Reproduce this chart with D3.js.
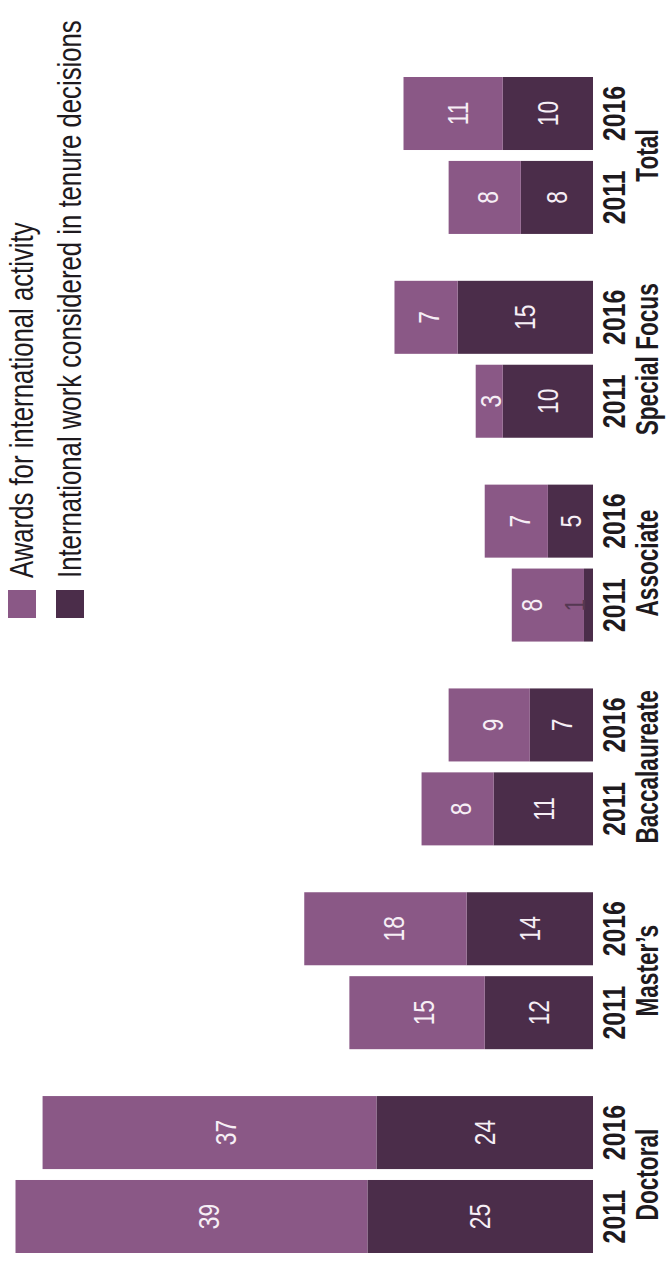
<!DOCTYPE html>
<html>
<head>
<meta charset="utf-8">
<script src="https://cdn.jsdelivr.net/npm/d3@7"></script>
<style>
  body { margin: 0; background: #fff; }
  text { font-family: "Liberation Sans", Arial, sans-serif; }
</style>
</head>
<body>
<div id="wrapper"></div>
<script>
// Data
const categories = ["Doctoral", "Master’s", "Baccalaureate", "Associate", "Special Focus", "Total"]
const years = ["2011", "2016"]
const awards2011 = [39, 15, 8, 8, 3, 8]
const awards2016 = [37, 18, 9, 7, 7, 11]
const tenure2011 = [25, 12, 11, 1, 10, 8]
const tenure2016 = [24, 14, 7, 5, 15, 10]
const seriesKeys = ["tenure", "awards"]
const seriesLabels = {
  awards: "Awards for international activity",
  tenure: "International work considered in tenure decisions",
}

function drawBars() {
  // the chart is drawn upright, then turned a quarter to the left
  const dms = { width: 670, height: 1261 }

  const colors = { awards: "#8a5886", tenure: "#4b2d4a" }
  const ink = "#1e1a1e"

  const rows = []
  categories.forEach((c, i) => {
    rows.push({ cat: c, year: "2011", awards: awards2011[i], tenure: tenure2011[i] })
    rows.push({ cat: c, year: "2016", awards: awards2016[i], tenure: tenure2016[i] })
  })

  const stacked = d3.stack().keys(seriesKeys)(rows)

  const wrapper = d3.select("#wrapper")
    .append("svg")
    .attr("width", dms.width)
    .attr("height", dms.height)

  const bounds = wrapper.append("g")
    .attr("transform", `translate(0, ${dms.height}) rotate(-90)`)

  // Scales
  const xOuter = d3.scaleBand()
    .domain(categories)
    .range([8, 1184])
    .paddingInner(0.23)
    .paddingOuter(0)

  const xInner = d3.scaleBand()
    .domain(years)
    .range([0, xOuter.bandwidth()])
    .paddingInner(0.13)
    .paddingOuter(0)

  const yScale = d3.scaleLinear()
    .domain([0, d3.max(rows, d => d.awards + d.tenure)])
    .range([593, 15.5])

  const barX = d => xOuter(d.data.cat) + xInner(d.data.year)

  // Bars
  const layers = bounds.append("g")
    .selectAll("g")
    .data(stacked)
    .join("g")
    .attr("fill", s => colors[s.key])

  layers.selectAll("rect")
    .data(s => s)
    .join("rect")
    .attr("x", barX)
    .attr("y", d => yScale(d[1]))
    .attr("width", xInner.bandwidth())
    .attr("height", d => yScale(d[0]) - yScale(d[1]))

  // Value labels
  // (no condensed face installed, so text is squeezed along its run)
  const labels = []
  stacked.forEach(s => {
    s.forEach(d => {
      const segH = yScale(d[0]) - yScale(d[1])
      labels.push({ key: s.key, v: d[1] - d[0], d, small: segH < 20 })
    })
  })
  labels.forEach(l => {
    l.x = barX(l.d) + xInner.bandwidth() / 2
    if (l.small) {
      l.y = yScale(l.d[1]) - 9
      l.fill = "#553852"
    } else {
      const below = labels.find(o => o !== l && o.d.data === l.d.data && o.small)
      if (below) {
        l.y = (yScale(l.d[1]) + yScale(l.d[0]) - 33) / 2
      } else {
        const f = l.key === "awards" ? 0.45 : 0.5
        l.y = yScale(l.d[0] + (l.d[1] - l.d[0]) * f)
      }
      l.fill = "#f6eef5"
    }
  })

  bounds.append("g")
    .selectAll("text")
    .data(labels)
    .join("text")
    .attr("transform", l => `translate(${l.x}, ${l.y}) scale(0.76, 1)`)
    .attr("text-anchor", "middle")
    .attr("dominant-baseline", "central")
    .attr("fill", l => l.fill)
    .attr("font-size", "30px")
    .text(l => l.v)

  // Year labels
  bounds.append("g")
    .selectAll("text")
    .data(rows)
    .join("text")
    .attr("transform", d =>
      `translate(${xOuter(d.cat) + xInner(d.year) + xInner.bandwidth() / 2}, 625) scale(0.8, 1)`)
    .attr("text-anchor", "middle")
    .attr("fill", ink)
    .attr("font-size", "31px")
    .attr("font-weight", "bold")
    .text(d => d.year)

  // Category labels
  bounds.append("g")
    .selectAll("text")
    .data(categories)
    .join("text")
    .attr("transform", c => `translate(${xOuter(c) + xOuter.bandwidth() / 2}, 658) scale(0.73, 1)`)
    .attr("text-anchor", "middle")
    .attr("fill", ink)
    .attr("font-size", "31px")
    .attr("font-weight", "bold")
    .text(c => c)

  // Legend
  const legend = bounds.append("g")
    .attr("transform", "translate(643, 8)")

  const legendItems = legend.selectAll("g")
    .data(["awards", "tenure"])
    .join("g")
    .attr("transform", (k, i) => `translate(0, ${i * 48})`)

  legendItems.append("rect")
    .attr("width", 28)
    .attr("height", 28)
    .attr("fill", k => colors[k])

  legendItems.append("text")
    .attr("transform", "translate(40, 25) scale(0.78, 1)")
    .attr("fill", ink)
    .attr("font-size", "33px")
    .text(k => seriesLabels[k])
}

drawBars()
</script>
</body>
</html>
